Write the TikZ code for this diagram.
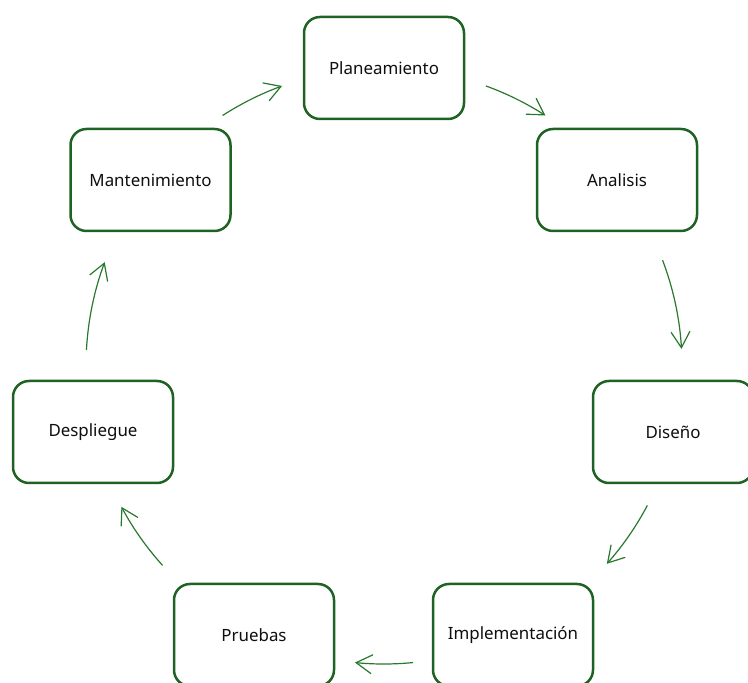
\documentclass[tikz,border=0pt]{standalone}
\usepackage{fontspec}
\setmainfont{Noto Sans}
\usetikzlibrary{arrows.meta,calc}
\definecolor{boxgreen}{RGB}{30,98,36}
\definecolor{arrowgreen}{RGB}{40,120,45}
\definecolor{textdark}{RGB}{15,15,15}
\tikzset{
  phase/.style={draw=boxgreen, line width=2.5pt, rounded corners=16pt,
    minimum width=160pt, minimum height=102pt, fill=white,
    text=textdark, font=\fontsize{16.9}{18}\selectfont, inner sep=0pt},
  cyc/.style={draw=arrowgreen, line width=1.2pt,
    -{Straight Barb[length=16pt,width=19pt,line width=1.2pt]}}
}
\begin{document}
\begin{tikzpicture}[x=1pt,y=1pt]
\useasboundingbox (0,0) rectangle (748,683);
\coordinate (c) at (384,317);

\node[phase] (plan) at (384,615) {Planeamiento};
\node[phase] (anal) at (617,503) {Analisis};
\node[phase] (dis)  at (673,251) {Diseño};
\node[phase] (impl) at (513,48)  {Implementación};
\node[phase] (prue) at (254,48)  {Pruebas};
\node[phase] (desp) at (93,251)  {Despliegue};
\node[phase] (mant) at (150.5,503) {Mantenimiento};

% cycle arrows, arcs around the common centre
\draw[cyc] ($(c)+(122.8:298)$) arc[start angle=122.8, end angle=110, radius=298];
\draw[cyc] ($(c)+(70:298)$)    arc[start angle=70,    end angle=57.2, radius=298];
\draw[cyc] ($(c)+(20.8:298)$)  arc[start angle=20.8,  end angle=3.3,  radius=298];
\draw[cyc] ($(c)+(-27.9:298)$) arc[start angle=-27.9, end angle=-41.6, radius=298];
\draw[cyc] ($(c)+(-84.4:298)$) arc[start angle=-84.4, end angle=-95.6, radius=298];
\draw[cyc] ($(c)+(-138:298)$)  arc[start angle=-138,  end angle=-151.8, radius=298];
\draw[cyc] ($(c)+(176.9:298)$) arc[start angle=176.9, end angle=159.6, radius=298];
\end{tikzpicture}
\end{document}
